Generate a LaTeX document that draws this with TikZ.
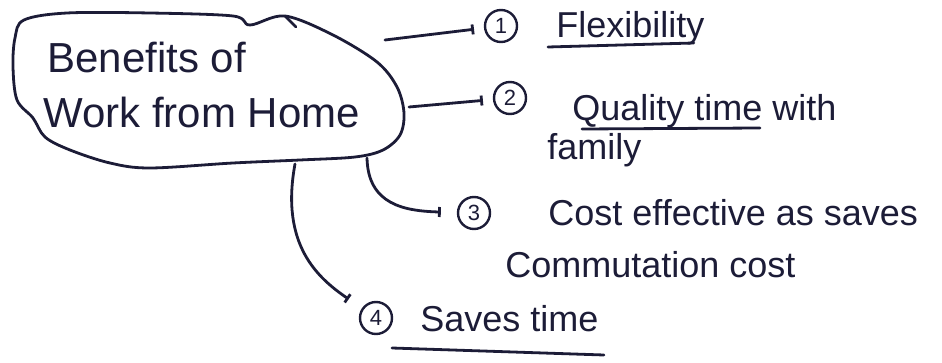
\documentclass[tikz,border=0pt]{standalone}
\usepackage{fontspec}
\setmainfont{Liberation Sans}
\usepackage{tikz}
\usetikzlibrary{calc,arrows.meta}
\usepackage{xcolor}
\definecolor{ink}{RGB}{28,28,55}

\begin{document}
\begin{tikzpicture}[x=0.5pt, y=-0.5pt,
    pen/.style={draw=ink, line width=1.4pt, line cap=round, line join=round},
    link/.style={pen, -{Bar[width=5pt]}, shorten >=5pt},
    num/.style={circle, draw=ink, line width=1.2pt, inner sep=0pt, minimum size=16pt,
      text=ink, font=\fontsize{11}{13}\selectfont},
    item/.style={anchor=base west, inner sep=0pt, text=ink, font=\fontsize{18}{22}\selectfont}]

    \useasboundingbox (0,0) rectangle (942,363);

    % Central blob
    \draw[pen] plot[smooth cycle, tension=0.55] coordinates {
      (24,20) (67,13) (150,13) (233,16) (250,25) (285,16) (333,35) (377,62) (397,87)
      (404,113) (400,135) (383,150) (355,157) (300,160) (233,163) (150,168) (110,163)
      (70,150) (45,137) (33,118) (17,100) (13,67) (15,38)};
    \draw[pen] (285,16) -- (296,27);
    \node[item, font=\fontsize{21}{26}\selectfont] (hub) at (47,73) {Benefits of};
    \node[item, font=\fontsize{21}{26}\selectfont] (hubb) at (43,128) {Work from Home};

    % Numbered points
    \node[num] (n1) at (501,26) {1};
    \node[num] (n2) at (510,98) {2};
    \node[num] (n3) at (474,213) {3};
    \node[num] (n4) at (376,318) {4};

    \node[item] (t1) at (556,38) {Flexibility};
    \node[item] (t2) at (572,121) {Quality time with};
    \node[item] (t2b) at (547,160) {family};
    \node[item] (t3) at (548,226) {Cost effective as saves};
    \node[item] (t3b) at (505,278) {Commutation cost};
    \node[item] (t4) at (420,331) {Saves time};

    % Underlines
    \draw[pen] ($(t1.base west)+(-8,9)$) -- ($(t1.base east)+(-11,5)$);
    \draw[pen] ($(t2.base west)+(10,8)$) -- ($(t2.base west)+(188,7)$);
    \draw[pen] ($(t4.base west)+(-28,17)$) -- ($(t4.base east)+(5,24)$);

    % Branches from the blob
    \coordinate (s1) at (385,40);
    \coordinate (s2) at (409,107);
    \coordinate (s3) at (367,158);
    \coordinate (s4) at (295,164);
    \draw[link] (s1) -- (n1);
    \draw[link] (s2) -- (n2);
    \draw[link, shorten >=8pt] (s3) .. controls (368,205) and (405,211) .. (n3);
    \draw[link, shorten >=8pt] (s4) .. controls (280,245) and (318,278) .. (n4);
\end{tikzpicture}
\end{document}
